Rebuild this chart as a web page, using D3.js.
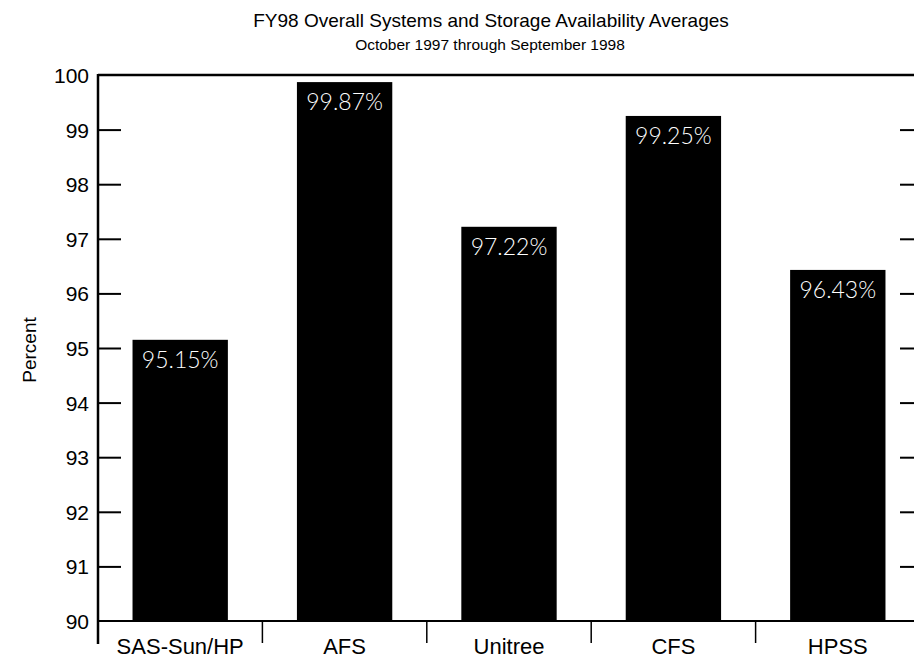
<!DOCTYPE html>
<html><head><meta charset="utf-8">
<script src="https://cdn.jsdelivr.net/npm/d3@7"></script>
<style>body{margin:0;background:#fff}svg{display:block}</style>
</head><body>
<svg id="c" width="914" height="658"></svg>
<script>
const categories = ["SAS-Sun/HP", "AFS", "Unitree", "CFS", "HPSS"];
const values = [95.15, 99.87, 97.22, 99.25, 96.43];
const labels = ["95.15%", "99.87%", "97.22%", "99.25%", "96.43%"];
const yTicks = [90, 91, 92, 93, 94, 95, 96, 97, 98, 99, 100];

(function () {
const svg = d3.select("#c");
const mLeft = 98, mRight = 920, mTop = 75, mBottom = 621;
const x = d3.scaleBand().domain(categories).range([mLeft, mRight]).paddingInner(0.42).paddingOuter(0.21);
const y = d3.scaleLinear().domain([90, 100]).range([mBottom, mTop]);
const font = "Liberation Sans, Arial, Helvetica, sans-serif";

// title
svg.append("text").attr("x", 491).attr("y", 27).attr("text-anchor", "middle")
  .attr("font-family", font).attr("font-size", 19).text("FY98 Overall Systems and Storage Availability Averages");
svg.append("text").attr("x", 490).attr("y", 50).attr("text-anchor", "middle")
  .attr("font-family", font).attr("font-size", 15.5)
  .text("October 1997 through September 1998");

// bars
svg.selectAll("rect.bar").data(values).join("rect").attr("class", "bar")
  .attr("x", (d, i) => x(categories[i])).attr("width", x.bandwidth())
  .attr("y", d => y(d)).attr("height", d => y(90) - y(d)).attr("fill", "#000");

svg.selectAll("text.lab").data(values).join("text").attr("class", "lab")
  .attr("x", (d, i) => x(categories[i]) + x.bandwidth() / 2).attr("y", d => y(d) + 28)
  .attr("text-anchor", "middle").attr("fill", "#fff").attr("font-family", "Lato, 'Open Sans', sans-serif")
  .attr("font-weight", 300).attr("font-size", 23).text((d, i) => labels[i]);

// frame lines
const g = svg.append("g").attr("stroke", "#000").attr("fill", "none");
g.append("line").attr("x1", mLeft).attr("x2", mLeft).attr("y1", mTop - 1).attr("y2", mBottom + 23).attr("stroke-width", 2.5);
g.append("line").attr("x1", mLeft).attr("x2", 914).attr("y1", mTop).attr("y2", mTop).attr("stroke-width", 2.5);
g.append("line").attr("x1", mLeft).attr("x2", 914).attr("y1", mBottom).attr("y2", mBottom).attr("stroke-width", 2);

// y ticks
const yAxis = d3.axisRight(y).tickValues(yTicks).tickSize(23).tickFormat("");
svg.append("g").attr("transform", `translate(${mLeft},0)`).call(yAxis)
  .call(s => s.select(".domain").remove())
  .call(s => s.selectAll("line").attr("stroke-width", 2).attr("stroke", "#000"))
  .call(s => s.selectAll(".tick").filter(d => d === 90 || d === 100).remove());
const yAxisR = d3.axisLeft(y).tickValues(yTicks).tickSize(20).tickFormat("");
svg.append("g").attr("transform", `translate(920,0)`).call(yAxisR)
  .call(s => s.select(".domain").remove())
  .call(s => s.selectAll("line").attr("stroke-width", 2).attr("stroke", "#000"))
  .call(s => s.selectAll(".tick").filter(d => d === 90 || d === 100).remove());

svg.selectAll("text.yl").data(yTicks).join("text").attr("class", "yl")
  .attr("x", 89).attr("y", d => y(d) + 8).attr("text-anchor", "end")
  .attr("font-family", font).attr("font-size", 21).text(d => d);

// category dividers
const step = x.step();
const dividers = categories.slice(1).map(c => x(c) - (step - x.bandwidth()) / 2);
svg.selectAll("line.div").data(dividers).join("line").attr("class", "div")
  .attr("x1", d => d).attr("x2", d => d).attr("y1", mBottom).attr("y2", mBottom + 22)
  .attr("stroke", "#000").attr("stroke-width", 1.5);

svg.selectAll("text.xl").data(categories).join("text").attr("class", "xl")
  .attr("x", d => x(d) + x.bandwidth() / 2).attr("y", 654).attr("text-anchor", "middle")
  .attr("font-family", font).attr("font-size", 22).text(d => d);

svg.append("text").attr("transform", "translate(36,350) rotate(-90)").attr("text-anchor", "middle")
  .attr("font-family", font).attr("font-size", 19).text("Percent");
})();
</script>
</body></html>
